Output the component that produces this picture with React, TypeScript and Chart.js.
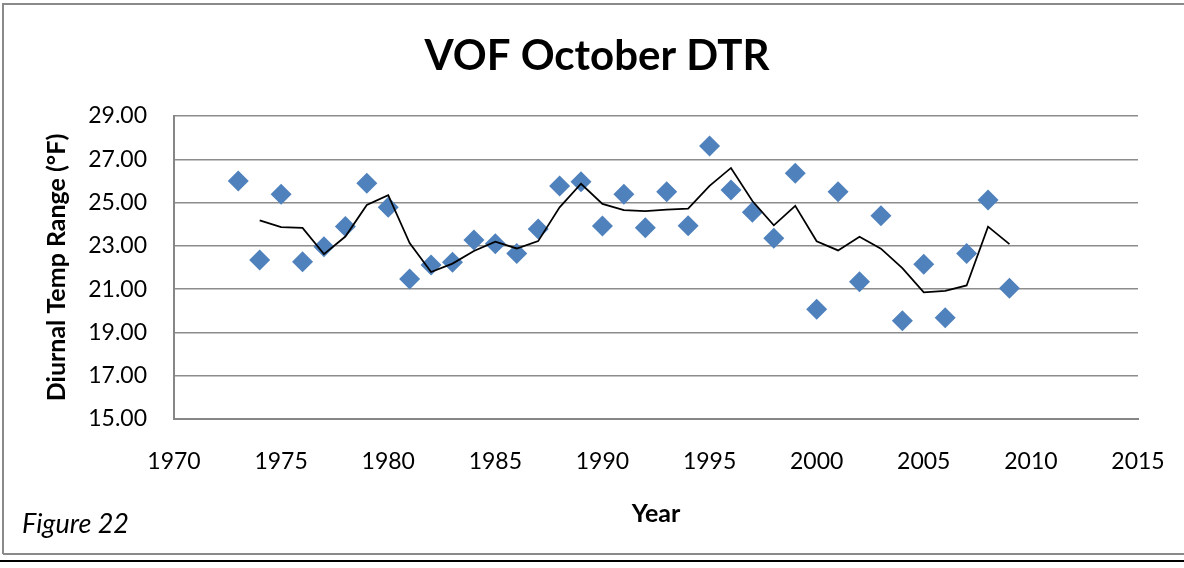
import React, { useEffect, useRef } from "react";
import { Chart, registerables } from "chart.js";

Chart.register(...registerables);

const years = [
  1973, 1974, 1975, 1976, 1977, 1978, 1979, 1980, 1981, 1982, 1983, 1984, 1985,
  1986, 1987, 1988, 1989, 1990, 1991, 1992, 1993, 1994, 1995, 1996, 1997, 1998,
  1999, 2000, 2001, 2002, 2003, 2004, 2005, 2006, 2007, 2008, 2009,
];
const dtr = [
  26.0, 22.35, 25.38, 22.27, 22.96, 23.89, 25.89, 24.78, 21.47, 22.11, 22.24,
  23.27, 23.1, 22.65, 23.78, 25.77, 25.96, 23.92, 25.38, 23.84, 25.5, 23.93,
  27.61, 25.58, 24.55, 23.35, 26.35, 20.07, 25.5, 21.34, 24.39, 19.54, 22.15,
  19.68, 22.65, 25.12, 21.04,
];
// 2-period moving average trendline
const maYears = [
  1974, 1975, 1976, 1977, 1978, 1979, 1980, 1981, 1982, 1983, 1984, 1985, 1986,
  1987, 1988, 1989, 1990, 1991, 1992, 1993, 1994, 1995, 1996, 1997, 1998, 1999,
  2000, 2001, 2002, 2003, 2004, 2005, 2006, 2007, 2008, 2009,
];
const maValues = [
  24.18, 23.87, 23.83, 22.62, 23.43, 24.89, 25.34, 23.13, 21.79, 22.18, 22.76,
  23.19, 22.88, 23.22, 24.78, 25.87, 24.94, 24.65, 24.61, 24.67, 24.72, 25.77,
  26.6, 25.07, 23.95, 24.85, 23.21, 22.79, 23.42, 22.87, 21.97, 20.85, 20.92,
  21.17, 23.89, 23.08,
];
const xTicksMin = 1970;
const xTicksMax = 2015;
const yTicksMin = 15;
const yTicksMax = 29;

const chartTitle = "VOF October DTR";
const yTitle = "Diurnal Temp Range (°F)";
const xTitle = "Year";
const figureLabel = "Figure 22";

const FONT = "Lato";

const decor = {
  id: "decor",
  beforeDraw(chart: any) {
    const ctx = chart.ctx;
    ctx.save();
    ctx.fillStyle = "#ffffff";
    ctx.fillRect(0, 0, chart.width, chart.height);
    ctx.restore();
  },
  afterDraw(chart: any) {
    const ctx = chart.ctx;
    const area = chart.chartArea;
    ctx.save();
    // outer frame
    ctx.strokeStyle = "#8a8a8a";
    ctx.lineWidth = 2;
    ctx.beginPath();
    ctx.moveTo(3, 554);
    ctx.lineTo(3, 4);
    ctx.lineTo(chart.width, 4);
    ctx.moveTo(3, 554);
    ctx.lineTo(chart.width, 554);
    ctx.stroke();
    ctx.strokeStyle = "#000000";
    ctx.lineWidth = 2;
    ctx.beginPath();
    ctx.moveTo(0, 561);
    ctx.lineTo(chart.width, 561);
    ctx.stroke();

    ctx.fillStyle = "#000000";
    ctx.textAlign = "center";
    ctx.textBaseline = "middle";
    ctx.font = `bold 42px ${FONT}`;
    ctx.fillText(chartTitle, 597, 56);

    ctx.font = `bold 25px ${FONT}`;
    ctx.fillText(xTitle, 656, 514);

    ctx.save();
    ctx.translate(57, (area.top + area.bottom) / 2);
    ctx.rotate(-Math.PI / 2);
    ctx.fillText(yTitle, 0, 0);
    ctx.restore();

    ctx.textAlign = "left";
    ctx.font = `italic 27px ${FONT}`;
    ctx.fillText(figureLabel, 22, 524);
    ctx.restore();
  },
};

export default function App() {
  const ref = useRef<HTMLCanvasElement | null>(null);
  useEffect(() => {
    if (!ref.current) return;
    const chart = new Chart(ref.current, {
      type: "scatter",
      data: {
        datasets: [
          {
            type: "line",
            label: "2 per. Mov. Avg.",
            data: maYears.map((x, i) => ({ x, y: maValues[i] })),
            borderColor: "#000000",
            borderWidth: 1.75,
            pointRadius: 0,
            fill: false,
            tension: 0,
            order: 0,
          },
          {
            type: "scatter",
            label: "DTR",
            data: years.map((x, i) => ({ x, y: dtr[i] })),
            pointStyle: "rectRot",
            pointRadius: 10.5,
            backgroundColor: "#4F81BD",
            borderColor: "#4F81BD",
            borderWidth: 0,
            order: 1,
          },
        ] as any,
      },
      options: {
        animation: false,
        responsive: false,
        maintainAspectRatio: false,
        layout: { padding: { left: 0, top: 116, right: 46, bottom: 0 } },
        plugins: {
          legend: { display: false },
          title: { display: false },
          tooltip: { enabled: false },
        },
        scales: {
          x: {
            type: "linear",
            min: xTicksMin,
            max: xTicksMax,
            afterFit: (s: any) => {
              s.height = 149;
              s.paddingLeft = 0;
              s.paddingRight = 0;
            },
            ticks: {
              stepSize: 5,
              callback: (v: any) => String(v),
              font: { family: FONT, size: 23 },
              color: "#000000",
              padding: 29,
            },
            grid: { display: false, drawTicks: false },
            border: { display: true, color: "#868686", width: 2 },
          },
          y: {
            min: yTicksMin,
            max: yTicksMax,
            afterFit: (s: any) => {
              s.width = 174;
              s.paddingTop = 0;
              s.paddingBottom = 0;
            },
            ticks: {
              stepSize: 2,
              callback: (v: any) => Number(v).toFixed(2),
              font: { family: FONT, size: 23 },
              color: "#000000",
              padding: 27,
            },
            grid: { color: "#8c8c8c", lineWidth: 1.5, drawTicks: false },
            border: { display: true, color: "#868686", width: 2 },
          },
        },
      },
      plugins: [decor],
    });
    return () => chart.destroy();
  }, []);
  return (
    <div style={{ position: "absolute", left: 0, top: 0, width: 1184, height: 568 }}>
      <canvas ref={ref} width={1184} height={568} style={{ display: "block" }} />
    </div>
  );
}
